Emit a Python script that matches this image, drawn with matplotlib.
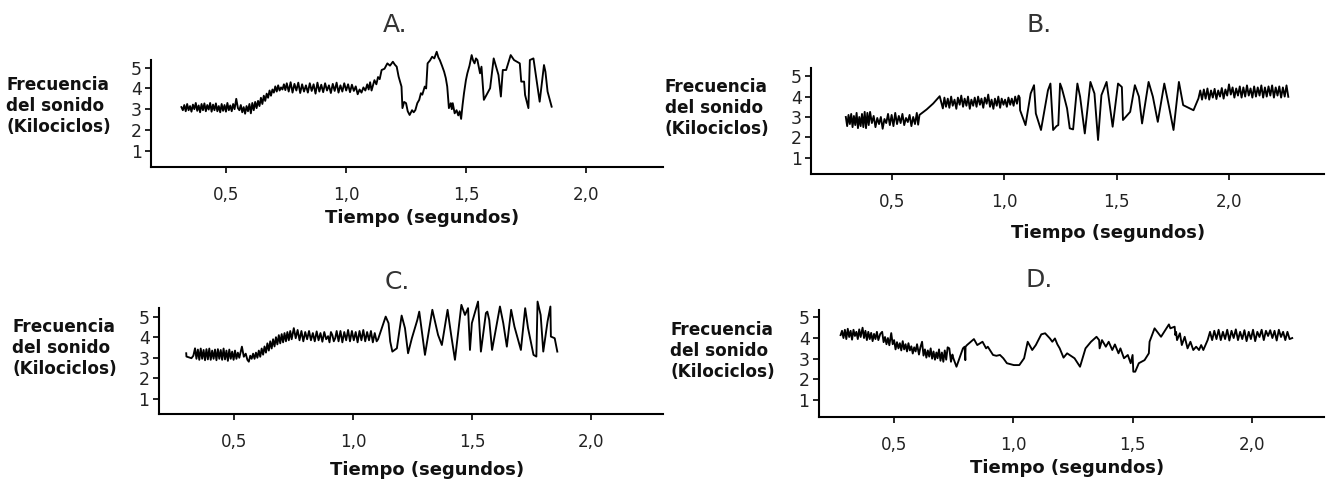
import matplotlib
matplotlib.use("Agg")
import matplotlib.pyplot as plt

# time (s) / frequency (kHz)
tiempo_A = [0.312, 0.318, 0.324, 0.330, 0.336, 0.342, 0.348, 0.354, 0.360, 0.366, 0.372, 0.378, 0.384, 0.390,
            0.396, 0.402, 0.408, 0.414, 0.420, 0.426, 0.432, 0.438, 0.444, 0.450, 0.456, 0.462, 0.468, 0.474,
            0.480, 0.486, 0.492, 0.498, 0.504, 0.510, 0.516, 0.522, 0.528, 0.534,
            0.541, 0.548, 0.554, 0.560, 0.566, 0.572, 0.578, 0.584, 0.590, 0.596, 0.602, 0.608, 0.614, 0.620,
            0.626, 0.632, 0.638, 0.644, 0.650, 0.656, 0.662, 0.668, 0.674, 0.680, 0.686, 0.692, 0.698, 0.704,
            0.710, 0.716, 0.722, 0.728, 0.734, 0.740, 0.746,
            0.752, 0.760, 0.768, 0.776, 0.784, 0.792, 0.800, 0.808, 0.816, 0.824, 0.832, 0.840, 0.848, 0.856,
            0.864, 0.872, 0.880, 0.888, 0.896, 0.904, 0.912, 0.920, 0.928, 0.936, 0.944, 0.952, 0.960, 0.968,
            0.976, 0.984, 0.992, 1.000, 1.008, 1.016, 1.024, 1.032, 1.040, 1.048, 1.056, 1.064, 1.072, 1.080,
            1.088, 1.094, 1.100, 1.106,
            1.118, 1.126, 1.133, 1.140, 1.148, 1.160, 1.172, 1.183, 1.195, 1.203, 1.211, 1.216, 1.219, 1.226,
            1.231, 1.233, 1.235, 1.242, 1.250, 1.257, 1.265, 1.275, 1.282, 1.289, 1.297, 1.305, 1.312, 1.318,
            1.328, 1.334, 1.340, 1.350, 1.359, 1.368, 1.378, 1.385, 1.391, 1.400, 1.409, 1.416, 1.422, 1.426,
            1.429, 1.437, 1.441, 1.445, 1.453, 1.461, 1.468, 1.474, 1.480, 1.486, 1.492, 1.500, 1.506, 1.515,
            1.524, 1.530, 1.536, 1.542, 1.548, 1.555, 1.559, 1.565, 1.575, 1.601, 1.616, 1.636, 1.646, 1.654,
            1.668, 1.687, 1.701, 1.725, 1.731, 1.743, 1.747, 1.761, 1.767, 1.782, 1.790, 1.808, 1.826, 1.832,
            1.841, 1.858]
frec_A = [3.10, 2.95, 3.20, 2.90, 3.25, 2.95, 3.15, 2.88, 3.22, 3.00, 3.30, 2.92, 3.18, 2.85,
          3.25, 2.95, 3.28, 2.90, 3.20, 2.98, 3.30, 2.88, 3.22, 2.95, 3.28, 2.90, 3.15, 2.85,
          3.25, 2.92, 3.20, 2.88, 3.30, 2.95, 3.18, 2.90, 3.25, 3.00,
          3.50, 3.05, 2.95, 3.20, 2.85, 3.10, 2.78, 3.15, 2.90, 3.25, 2.80, 3.30, 2.95, 3.35,
          3.05, 3.40, 3.15, 3.55, 3.25, 3.65, 3.40, 3.75, 3.55, 3.90, 3.65, 3.95, 3.80, 4.10,
          3.85, 4.15, 3.90, 4.05, 3.95, 4.20, 3.92,
          4.25, 3.85, 4.30, 3.80, 4.22, 3.90, 4.28, 3.78, 4.20, 3.85, 4.15, 3.80, 4.25, 3.88,
          4.20, 3.75, 4.28, 3.85, 4.18, 3.82, 4.25, 3.90, 4.15, 3.78, 4.22, 3.88, 4.28, 3.80,
          4.15, 3.85, 4.25, 3.90, 4.20, 3.82, 4.18, 3.88, 4.10, 3.72, 3.95, 3.80, 4.05, 3.90,
          4.20, 3.95, 4.30, 3.90,
          4.40, 4.20, 4.55, 4.45, 4.89, 4.95, 5.21, 5.10, 5.29, 5.15, 5.05, 4.75, 4.57, 4.30,
          4.09, 3.60, 3.05, 3.35, 3.29, 2.90, 2.72, 2.95, 2.85, 2.96, 3.29, 3.45, 3.77, 3.70,
          4.09, 4.00, 5.21, 5.35, 5.53, 5.45, 5.77, 5.50, 5.37, 5.10, 4.81, 4.50, 4.09, 3.50,
          3.05, 3.29, 3.00, 3.29, 2.80, 2.95, 2.70, 2.90, 2.53, 3.20, 3.77, 4.40, 4.73, 5.10,
          5.61, 5.35, 5.21, 5.45, 5.37, 4.95, 4.73, 5.05, 3.45, 4.01, 5.45, 4.65, 3.61, 4.89,
          4.89, 5.61, 5.37, 5.21, 4.33, 4.33, 3.69, 3.05, 5.37, 5.45, 4.81, 3.36, 5.13, 4.81,
          3.85, 3.12]

tiempo_B = [0.294, 0.300, 0.306, 0.312, 0.318, 0.324, 0.330, 0.336, 0.342, 0.348, 0.354, 0.360, 0.366, 0.372,
            0.378, 0.384, 0.390, 0.396, 0.402, 0.410, 0.418, 0.426, 0.434, 0.442, 0.450, 0.458, 0.466, 0.474,
            0.482, 0.490, 0.498, 0.506, 0.514, 0.522, 0.530, 0.538, 0.546, 0.554, 0.562, 0.570, 0.578, 0.586,
            0.594, 0.602, 0.610, 0.616, 0.622, 0.654, 0.683, 0.712, 0.726,
            0.733, 0.740, 0.748, 0.755, 0.763, 0.770, 0.778, 0.786, 0.793, 0.801, 0.808, 0.816, 0.823, 0.831,
            0.838, 0.846, 0.853, 0.861, 0.868, 0.876, 0.883, 0.891, 0.898, 0.906, 0.913, 0.921, 0.928, 0.936,
            0.943, 0.951, 0.958, 0.966, 0.973, 0.981, 0.988, 0.996, 1.003, 1.011, 1.018, 1.026, 1.033, 1.041,
            1.048, 1.056, 1.063, 1.068, 1.070,
            1.094, 1.117, 1.132, 1.140, 1.163, 1.194, 1.205, 1.217, 1.232, 1.240, 1.248, 1.256, 1.268, 1.279,
            1.291, 1.306, 1.325, 1.337, 1.358, 1.383, 1.401, 1.417, 1.432, 1.455, 1.482, 1.506, 1.523, 1.528,
            1.560, 1.581, 1.599, 1.613, 1.642, 1.661, 1.683, 1.712, 1.733, 1.753, 1.777, 1.796, 1.842, 1.864,
            1.872, 1.880, 1.888, 1.896, 1.904, 1.912, 1.920, 1.928, 1.936, 1.944, 1.952, 1.960, 1.968, 1.976,
            1.984, 1.992, 2.000, 2.008, 2.016, 2.024, 2.032, 2.040, 2.048, 2.056, 2.064, 2.072, 2.080, 2.088,
            2.096, 2.104, 2.112, 2.120, 2.128, 2.136, 2.144, 2.152, 2.160, 2.168, 2.176, 2.184, 2.192, 2.200,
            2.208, 2.216, 2.224, 2.232, 2.240, 2.248, 2.256, 2.264]
frec_B = [3.00, 2.55, 3.10, 2.65, 3.15, 2.50, 3.05, 2.60, 3.20, 2.45, 3.00, 2.55, 3.15, 2.50,
          3.25, 2.45, 3.20, 2.60, 3.25, 2.70, 3.05, 2.50, 2.95, 2.65, 3.00, 2.42, 2.90, 2.70,
          3.15, 2.60, 3.10, 2.55, 3.20, 2.65, 3.05, 2.70, 3.15, 2.60, 2.95, 2.75, 3.10, 2.55,
          3.00, 2.65, 3.20, 2.62, 3.10, 3.37, 3.66, 4.02, 3.42,
          3.95, 3.50, 3.90, 3.45, 4.00, 3.55, 3.85, 3.40, 3.95, 3.60, 4.05, 3.50, 3.90, 3.55,
          4.00, 3.40, 3.85, 3.55, 3.95, 3.50, 4.00, 3.60, 3.90, 3.45, 3.95, 3.65, 4.10, 3.50,
          3.85, 3.40, 3.90, 3.55, 4.00, 3.45, 3.90, 3.60, 3.85, 3.50, 3.95, 3.60, 3.90, 3.55,
          4.00, 3.65, 4.05, 3.95, 3.33,
          2.60, 4.15, 4.56, 3.17, 2.36, 4.31, 4.64, 2.36, 2.55, 2.60, 4.64, 4.40, 3.90, 3.42,
          2.44, 2.39, 4.64, 4.00, 2.19, 4.72, 4.15, 1.87, 4.07, 4.72, 2.52, 4.64, 4.47, 2.85,
          3.25, 4.56, 4.00, 2.68, 4.72, 4.00, 2.76, 4.64, 3.50, 2.36, 4.72, 3.58, 3.33, 3.91,
          4.30, 3.85, 4.35, 3.90, 4.40, 3.85, 4.30, 3.95, 4.38, 3.88, 4.30, 4.00, 4.42, 3.90,
          4.35, 4.05, 4.60, 4.10, 4.45, 3.95, 4.40, 4.05, 4.50, 3.95, 4.45, 4.00, 4.55, 4.05,
          4.40, 3.95, 4.50, 4.00, 4.45, 4.05, 4.55, 3.95, 4.45, 4.00, 4.50, 4.05, 4.55, 3.95,
          4.45, 4.05, 4.50, 3.95, 4.45, 4.00, 4.55, 3.99]

tiempo_C = [0.298, 0.299, 0.320, 0.328, 0.335, 0.341, 0.347, 0.353, 0.359, 0.365, 0.371, 0.377, 0.383, 0.389,
            0.395, 0.401, 0.407, 0.413, 0.419, 0.425, 0.431, 0.437, 0.443, 0.449, 0.455, 0.461, 0.467, 0.473,
            0.479, 0.485, 0.491, 0.497, 0.503, 0.509, 0.515, 0.521, 0.532, 0.540, 0.548, 0.555, 0.561, 0.567,
            0.573, 0.579, 0.585, 0.591, 0.597, 0.603, 0.609, 0.615, 0.621, 0.627, 0.633, 0.639, 0.645, 0.651,
            0.657, 0.663, 0.669, 0.675, 0.681, 0.687, 0.693, 0.699, 0.705, 0.711, 0.717, 0.723, 0.729, 0.735,
            0.741, 0.750, 0.758, 0.766, 0.774, 0.782, 0.790, 0.798, 0.806, 0.814, 0.822, 0.830, 0.838, 0.846,
            0.854, 0.862, 0.870, 0.878, 0.886, 0.894, 0.900, 0.906, 0.912, 0.918, 0.924, 0.930, 0.938, 0.946,
            0.954, 0.962, 0.970, 0.978, 0.986, 0.994, 1.002, 1.010, 1.018, 1.026, 1.034, 1.042, 1.050, 1.058,
            1.066, 1.074, 1.082, 1.090, 1.098,
            1.104, 1.136, 1.148, 1.155, 1.164, 1.183, 1.203, 1.217, 1.230, 1.246, 1.269, 1.277, 1.301, 1.332,
            1.356, 1.372, 1.396, 1.411, 1.427, 1.454, 1.469, 1.482, 1.490, 1.498, 1.524, 1.536, 1.557, 1.563,
            1.571, 1.583, 1.616, 1.630, 1.645, 1.663, 1.677, 1.704, 1.722, 1.734, 1.757, 1.769, 1.774, 1.787,
            1.798, 1.816, 1.828, 1.830, 1.846, 1.857]
frec_C = [3.22, 3.06, 2.98, 3.10, 3.46, 2.95, 3.40, 2.90, 3.45, 2.95, 3.38, 2.88, 3.42, 2.92,
          3.45, 2.90, 3.35, 2.95, 3.40, 2.88, 3.42, 2.95, 3.38, 2.90, 3.45, 2.92, 3.35, 2.85,
          3.40, 2.95, 3.30, 2.90, 3.35, 2.95, 3.25, 3.00, 3.54, 3.05, 3.20, 2.90, 2.81, 3.10,
          2.95, 3.20, 2.95, 3.25, 3.00, 3.35, 3.05, 3.45, 3.15, 3.55, 3.25, 3.70, 3.35, 3.80,
          3.45, 3.90, 3.55, 4.00, 3.65, 4.10, 3.70, 4.15, 3.75, 4.20, 3.80, 4.25, 3.85, 4.30,
          3.90, 4.44, 3.95, 4.35, 3.85, 4.30, 3.80, 4.25, 3.90, 4.30, 3.85, 4.20, 3.80, 4.28,
          3.85, 4.20, 3.78, 4.25, 3.90, 4.05, 3.75, 4.25, 4.10, 3.80, 3.95, 4.30, 3.80, 4.30,
          3.75, 4.25, 3.85, 4.35, 3.80, 4.30, 3.85, 4.25, 3.75, 4.30, 3.85, 4.35, 3.80, 4.25,
          3.85, 4.30, 3.75, 4.20, 3.80,
          3.90, 5.00, 4.68, 3.79, 3.30, 3.46, 5.05, 4.44, 3.22, 3.95, 4.84, 5.24, 3.14, 5.33,
          4.11, 3.62, 5.33, 4.11, 2.90, 5.57, 5.08, 5.41, 3.38, 4.68, 5.73, 3.30, 5.17, 5.24,
          4.84, 3.38, 5.49, 4.68, 3.54, 5.33, 4.51, 3.38, 5.41, 4.44, 3.14, 3.06, 5.73, 5.08,
          3.30, 4.76, 5.49, 4.03, 3.95, 3.30]

tiempo_D = [0.278, 0.284, 0.290, 0.296, 0.302, 0.308, 0.314, 0.320, 0.326, 0.332, 0.338, 0.344, 0.350, 0.356,
            0.362, 0.370, 0.376, 0.382, 0.388, 0.394, 0.400, 0.406, 0.412, 0.418, 0.424, 0.430, 0.436, 0.444,
            0.452, 0.458, 0.464, 0.470, 0.476, 0.482, 0.490, 0.496, 0.502, 0.508, 0.514, 0.520, 0.526, 0.532,
            0.538, 0.544, 0.550, 0.556, 0.562, 0.568, 0.574, 0.580, 0.586, 0.592, 0.598, 0.606, 0.612, 0.619,
            0.625, 0.631, 0.637, 0.643, 0.649, 0.655, 0.661, 0.667, 0.673, 0.679, 0.684, 0.690, 0.696, 0.702,
            0.708, 0.714, 0.720, 0.726, 0.733, 0.740, 0.746, 0.750, 0.763, 0.778, 0.790, 0.797, 0.800, 0.801,
            0.807, 0.836, 0.850, 0.872, 0.887, 0.894, 0.916, 0.930, 0.945, 0.959, 0.974, 1.003, 1.026, 1.046,
            1.061, 1.080, 1.095, 1.118, 1.134, 1.154, 1.164, 1.175, 1.185, 1.195, 1.211, 1.226, 1.257, 1.280,
            1.303, 1.326, 1.349, 1.360, 1.362, 1.372, 1.388, 1.400, 1.415, 1.426, 1.441, 1.449, 1.464, 1.480,
            1.492, 1.500, 1.503, 1.511, 1.526, 1.550, 1.568, 1.571, 1.592, 1.619, 1.652, 1.658, 1.676, 1.679,
            1.682, 1.686, 1.698, 1.706, 1.718, 1.730, 1.742, 1.754, 1.766, 1.778, 1.787, 1.796, 1.814,
            1.824, 1.833, 1.842, 1.851, 1.860, 1.869, 1.878, 1.887, 1.896, 1.905, 1.914, 1.923, 1.932, 1.941,
            1.950, 1.959, 1.968, 1.977, 1.986, 1.995, 2.004, 2.013, 2.022, 2.031, 2.040, 2.049, 2.058, 2.067,
            2.076, 2.085, 2.094, 2.103, 2.112, 2.121, 2.130, 2.139, 2.148, 2.157, 2.168]
frec_D = [4.14, 4.35, 4.00, 4.40, 3.95, 4.45, 4.05, 4.35, 3.92, 4.40, 4.10, 4.30, 3.95, 4.42,
          4.05, 4.50, 4.00, 4.35, 3.90, 4.30, 3.95, 4.25, 3.85, 4.20, 3.95, 4.30, 3.90, 4.20,
          4.30, 3.80, 4.05, 3.70, 4.00, 3.65, 4.24, 3.70, 3.90, 3.45, 3.80, 3.50, 3.75, 3.40,
          3.85, 3.45, 3.70, 3.35, 3.75, 3.40, 3.60, 3.25, 3.55, 3.35, 3.70, 3.20, 3.55, 3.82,
          3.15, 3.45, 3.05, 3.40, 3.10, 3.50, 3.00, 3.35, 2.95, 3.30, 3.02, 3.45, 2.90, 3.30,
          2.85, 3.40, 2.95, 3.55, 3.50, 2.85, 3.20, 3.02, 2.61, 3.10, 3.50, 3.58, 2.93, 3.58,
          3.66, 3.95, 3.66, 3.82, 3.50, 3.58, 3.18, 3.14, 3.18, 3.02, 2.78, 2.69, 2.69, 3.02,
          3.82, 3.42, 3.66, 4.18, 4.23, 3.98, 3.82, 3.98, 3.70, 3.50, 3.05, 3.26, 3.02, 2.61,
          3.50, 3.82, 4.06, 3.90, 3.50, 3.90, 3.58, 3.82, 3.42, 3.69, 3.26, 3.50, 3.02, 3.18,
          2.78, 3.18, 2.37, 2.37, 2.78, 2.93, 3.26, 3.82, 4.47, 4.06, 4.66, 4.47, 4.55, 4.14,
          4.30, 3.90, 4.23, 3.66, 4.06, 3.50, 3.82, 3.42, 3.58, 3.42, 3.66, 3.42, 3.90,
          4.30, 3.90, 4.35, 3.95, 4.40, 3.90, 4.30, 3.95, 4.40, 3.88, 4.35, 4.00, 4.42, 3.90,
          4.30, 3.95, 4.38, 3.85, 4.30, 3.95, 4.40, 3.85, 4.30, 4.05, 4.40, 3.90, 4.35, 4.10,
          4.38, 4.00, 4.35, 3.88, 4.40, 4.05, 4.30, 3.90, 4.30, 3.95, 4.00]

ticks_x = [0.5, 1.0, 1.5, 2.0]
ticks_x_lab = ["0,5", "1,0", "1,5", "2,0"]
ticks_y = [1, 2, 3, 4, 5]
titulos = ["A.", "B.", "C.", "D."]
etiqueta_y = "Frecuencia\ndel sonido\n(Kilociclos)"
etiqueta_x = "Tiempo (segundos)"

W, H = 1326, 480
fig = plt.figure(figsize=(W / 100, H / 100), dpi=100)


def fx(x):
    return x / W


def fy(y):
    return 1 - y / H


def panel(box, xlim, ylim, spine_top, t, f, title, title_xy, xlab_xy, ylab_xy):
    # box in pixels: left, top, right, bottom
    l, top, r, b = box
    ax = fig.add_axes([fx(l), fy(b), (r - l) / W, (b - top) / H])
    ax.plot(t, f, color="black", lw=1.35, clip_on=False)
    ax.set_xlim(xlim)
    ax.set_ylim(ylim)
    ax.patch.set_alpha(0)
    for s in ["top", "right"]:
        ax.spines[s].set_visible(False)
    ax.spines["left"].set_bounds(ylim[0], spine_top)
    ax.spines["left"].set_linewidth(1.5)
    ax.spines["bottom"].set_linewidth(1.5)
    ax.set_xticks(ticks_x)
    ax.set_xticklabels(ticks_x_lab)
    ax.set_yticks(ticks_y)
    ax.tick_params(axis="x", length=4, width=1.2, pad=10, labelsize=12, labelcolor="#222222")
    ax.tick_params(axis="y", length=4.5, width=1.2, pad=2, labelsize=12.5, labelcolor="#222222")
    fig.text(fx(title_xy[0]), fy(title_xy[1]), title, ha="center", va="center",
             fontsize=18, color="#333333")
    fig.text(fx(xlab_xy[0]), fy(xlab_xy[1]), etiqueta_x, ha="center", va="center",
             fontsize=13, fontweight="bold", color="#111111")
    fig.text(fx(ylab_xy[0]), fy(ylab_xy[1]), etiqueta_y, ha="left", va="center",
             fontsize=12.2, fontweight="bold", color="#111111", linespacing=1.2)
    return ax


panel((151, 47, 663, 167), (0.185, 2.323), (0.21, 6.0), 5.37, tiempo_A, frec_A,
      titulos[0], (395, 25), (422, 218), (6, 106))
panel((811, 64, 1324, 174), (0.139, 2.423), (0.20, 5.6), 5.39, tiempo_B, frec_B,
      titulos[1], (1039, 25), (1108, 233), (665, 108))
panel((158.6, 296, 663, 414), (0.182, 2.301), (0.27, 6.0), 5.42, tiempo_C, frec_C,
      titulos[2], (397, 282), (427, 470), (12, 348))
panel((818.6, 305, 1324, 416.7), (0.186, 2.301), (0.19, 5.6), 5.35, tiempo_D, frec_D,
      titulos[3], (1039, 280), (1067, 468), (670, 351))

fig.savefig("out.png", dpi=100)
